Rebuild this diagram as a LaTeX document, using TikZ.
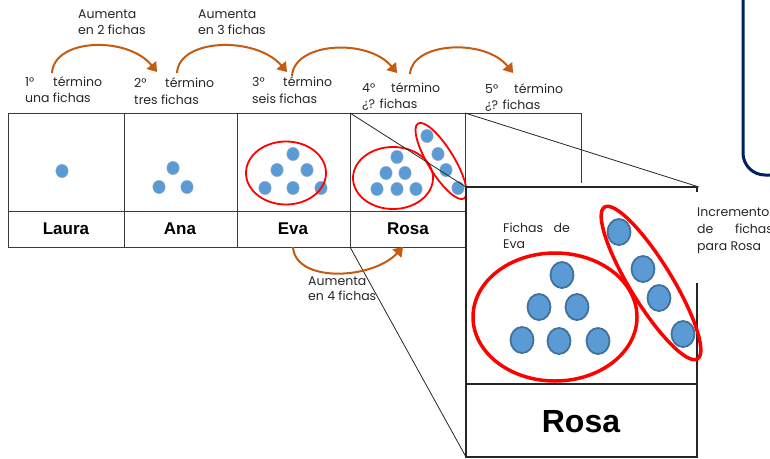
\documentclass[tikz,border=0pt]{standalone}
\usepackage{fontspec}
\setmainfont{Poppins}
\newfontfamily\namefont{Liberation Sans}
\usetikzlibrary{arrows.meta}
\definecolor{arrowc}{HTML}{C55A11}
\definecolor{dotfill}{HTML}{5B9BD5}
\definecolor{dotedge}{HTML}{41719C}
\definecolor{navyc}{HTML}{002060}
\definecolor{gridc}{HTML}{3A3A3A}
\definecolor{ringc}{HTML}{FF0000}
\tikzset{
  lbl/.style={anchor=base west, inner sep=0pt, text=black!85, font=\fontsize{12.5}{15}\selectfont},
  lble/.style={lbl, anchor=base east},
  namelbl/.style={inner sep=0pt, font=\namefont\bfseries\fontsize{17}{20}\selectfont},
  bignamelbl/.style={inner sep=0pt, font=\namefont\bfseries\fontsize{32}{36}\selectfont},
  growarrow/.style={draw=arrowc, line width=2pt, -{Triangle[width=12pt,length=9pt]}},
  gridline/.style={draw=gridc, line width=0.9pt},
  boxline/.style={draw=black!85, line width=2pt},
  diag/.style={draw=black!85, line width=0.8pt},
  smalldot/.style={fill=dotfill, draw=dotedge!60, line width=0.5pt},
  bigdot/.style={fill=dotfill, draw=dotedge, line width=1.8pt},
  ring/.style={draw=ringc, line width=1.8pt},
  bigring/.style={draw=ringc, line width=3.5pt},
}
\begin{document}
\begin{tikzpicture}[x=1pt,y=-1pt]
\useasboundingbox (0,0) rectangle (770,458);

% navy frame (top right)
\draw[navyc, line width=3pt, rounded corners=22pt] (743,-40) rectangle (830,175);

% main table
\draw[gridline] (8,113) -- (581,113);
\draw[gridline] (8,211) -- (465,211);
\draw[gridline] (8,247) -- (465,247);
\foreach \xx in {8,124,237,350} \draw[gridline] (\xx,113) -- (\xx,247);
\draw[gridline] (465,113) -- (465,187);
\draw[gridline] (581,113) -- (581,183);

% names
\node[namelbl] (laura) at (66,229) {Laura};
\node[namelbl] (ana)   at (180,229) {Ana};
\node[namelbl] (eva)   at (293,229) {Eva};
\node[namelbl] (rosa)  at (408,229) {Rosa};

% small dots
\foreach \p in {(62,171),(173,168),(159,187),(187,187),
  (293,154),(277,170),(307,170),(265,188),(293,188),(321,188),
  (397,157),(386,173),(405,173),(377,189),(397,189),(416,189),
  (427,136),(438,154),(446,170),(458,188)}
  \path[smalldot] \p ellipse [x radius=6.2, y radius=6.6];

% small rings
\draw[ring] (286,173) ellipse [x radius=40, y radius=31.5];
\draw[ring] (393,178) ellipse [x radius=40, y radius=31];
\draw[ring, rotate around={-58.5:(441,161)}] (441,161) ellipse [x radius=44, y radius=13];

% zoom box
\fill[white] (466,187) rectangle (698,458);
\draw[boxline] (697,192) -- (697,187) -- (466,187) -- (466,457) -- (697,457) -- (697,283);
\draw[boxline] (466,384) -- (697,384);

% diagonals of the zoom
\coordinate (rtl) at (350,113);
\coordinate (rbl) at (350,247);
\coordinate (ftl) at (465,113);
\coordinate (btl) at (466,187);
\coordinate (btr) at (699,187);
\coordinate (bbl) at (466,457);
\draw[diag] (rtl) -- (btl);
\draw[diag] (ftl) -- (btr);
\draw[diag] (rbl) -- (bbl);

% big dots
\foreach \p in {(619,232),(643,269),(659,298),(683,334),
  (562,275),(539,307),(577,307),(522,340),(559,341),(598,341)}
  \path[bigdot] \p ellipse [x radius=11.5, y radius=13];

% big rings
\draw[bigring] (555,317) ellipse [x radius=82, y radius=64];
\draw[bigring, rotate around={-58.5:(651,283)}] (651,283) ellipse [x radius=89, y radius=21];

\node[bignamelbl] (bigrosa) at (581,422) {Rosa};

\node[lbl] (fde1) at (503,232) {Fichas};
\node[lble] (fde2) at (570,232) {de};
\node[lbl] (fde3) at (503,248) {Eva};

\node[lbl] (inc1) at (697,216) {Incremento};
\node[lbl] (inc2) at (697,233) {de};
\node[lbl] (inc3) at (735,233) {fichas};
\node[lbl] (inc4) at (697,250) {para Rosa};

% term labels
\node[lbl] (t1a) at (25,86) {1°};
\node[lbl] (t1b) at (53,86) {término};
\node[lbl] (t1c) at (25,102) {una fichas};
\node[lbl] (t2a) at (134,87) {2°};
\node[lbl] (t2b) at (165,87) {término};
\node[lbl] (t2c) at (134,104) {tres fichas};
\node[lbl] (t3a) at (252,86) {3°};
\node[lbl] (t3b) at (283,86) {término};
\node[lbl] (t3c) at (252,103) {seis fichas};
\node[lbl] (t4a) at (362,92) {4°};
\node[lbl] (t4b) at (391,92) {término};
\node[lbl] (t4c) at (362,108) {¿? fichas};
\node[lbl] (t5a) at (485,93) {5°};
\node[lbl] (t5b) at (514,93) {término};
\node[lbl] (t5c) at (485,109) {¿? fichas};

% increase labels
\node[lbl] (up2a) at (78,18.5) {Aumenta};
\node[lbl] (up2b) at (78,34.5) {en 2 fichas};
\node[lbl] (up3a) at (198,18.5) {Aumenta};
\node[lbl] (up3b) at (198,34.5) {en 3 fichas};
\node[lbl] (up4a) at (308,285) {Aumenta};
\node[lbl] (up4b) at (308,300) {en 4 fichas};

% growth arrows
\coordinate (a1s) at (52,73);   \coordinate (a1e) at (157,72);
\coordinate (a2s) at (177,73);  \coordinate (a2e) at (287,72);
\coordinate (a3s) at (292,76);  \coordinate (a3e) at (397,73);
\coordinate (a4s) at (410,74);  \coordinate (a4e) at (513,73);
\coordinate (a5s) at (293,247); \coordinate (a5e) at (403,247);
\draw[growarrow] (a1s) .. controls (54,38) and (128,36) .. (a1e);
\draw[growarrow] (a2s) .. controls (179,38) and (256,36) .. (a2e);
\draw[growarrow] (a3s) .. controls (294,42) and (368,38) .. (a3e);
\draw[growarrow] (a4s) .. controls (412,42) and (485,38) .. (a4e);
\draw[growarrow] (a5s) .. controls (295,283) and (372,280) .. (a5e);
\end{tikzpicture}
\end{document}
